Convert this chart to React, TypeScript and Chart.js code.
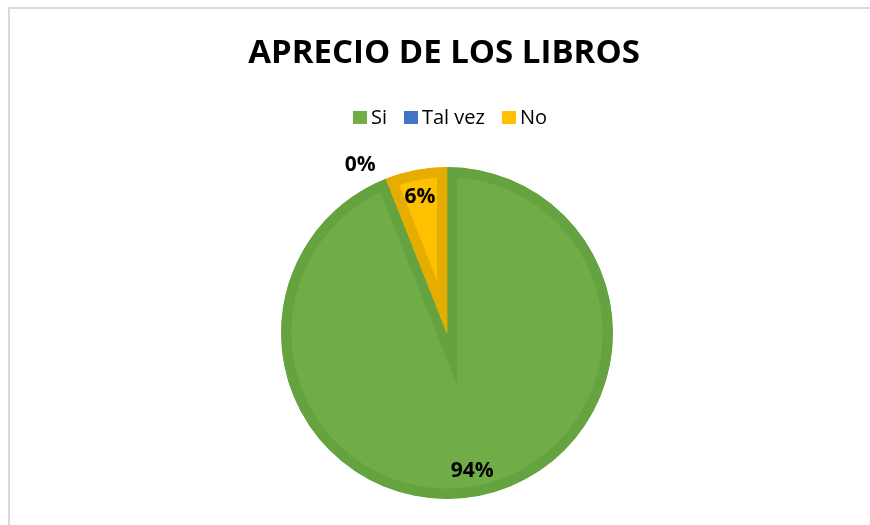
import React, { useEffect, useRef } from "react";
import { Chart, registerables } from "chart.js";

Chart.register(...registerables);

const TITLE = "APRECIO DE LOS LIBROS";
const categories = ["Si", "Tal vez", "No"];
const values = [94, 0, 6];
const fillColors = ["#70AD47", "#4472C4", "#FFC000"];
const borderColors = ["#65A240", "#3F68B3", "#E6AC00"];

const FONT = "'Open Sans', 'DejaVu Sans', sans-serif";

const framePlugin = {
  id: "frame",
  beforeDraw(chart: any) {
    const ctx = chart.ctx;
    ctx.save();
    ctx.fillStyle = "#ffffff";
    ctx.fillRect(0, 0, chart.width, chart.height);
    ctx.fillStyle = "#D9D9D9";
    ctx.fillRect(8, 7, 2, chart.height - 7);
    ctx.fillRect(8, 7, chart.width - 8, 2);
    ctx.restore();
  },
};

const titleLegendPlugin = {
  id: "titleLegend",
  afterDraw(chart: any) {
    const ctx = chart.ctx;
    ctx.save();
    ctx.fillStyle = "#000000";
    ctx.font = `bold 33px ${FONT}`;
    ctx.textAlign = "center";
    ctx.textBaseline = "alphabetic";
    ctx.fillText(TITLE, 444, 63);
    ctx.font = `20px ${FONT}`;
    ctx.textAlign = "left";
    const box = 14;
    const gapText = 4;
    const gapItem = 17;
    const widths = categories.map((c) => ctx.measureText(c).width);
    const total =
      widths.reduce((s, w) => s + box + gapText + w, 0) + gapItem * (categories.length - 1);
    let x = 450 - total / 2;
    categories.forEach((c, i) => {
      ctx.fillStyle = fillColors[i];
      ctx.fillRect(x, 111, box, 13);
      ctx.fillStyle = "#000000";
      ctx.fillText(c, x + box + gapText, 124);
      x += box + gapText + widths[i] + gapItem;
    });
    ctx.restore();
  },
};

const dataLabelPlugin = {
  id: "dataLabels",
  afterDatasetsDraw(chart: any) {
    const ctx = chart.ctx;
    const meta = chart.getDatasetMeta(0);
    const data = chart.data.datasets[0].data as number[];
    const total = data.reduce((s, v) => s + v, 0);
    ctx.save();
    ctx.font = `bold 21px ${FONT}`;
    ctx.fillStyle = "#000000";
    ctx.textBaseline = "middle";
    meta.data.forEach((arc: any, i: number) => {
      const p = arc.getProps(["x", "y", "startAngle", "endAngle", "outerRadius"], true);
      const mid = (p.startAngle + p.endAngle) / 2;
      const pct = Math.round((data[i] / total) * 100) + "%";
      if (data[i] > 0) {
        const r = p.outerRadius * 0.84;
        ctx.textAlign = "center";
        ctx.fillText(pct, p.x + Math.cos(mid) * r - 1, p.y + Math.sin(mid) * r + 1);
      } else {
        const r = p.outerRadius * 1.1;
        ctx.textAlign = "right";
        ctx.fillText(pct, p.x + Math.cos(mid) * r - 4, p.y + Math.sin(mid) * r + 2);
      }
    });
    ctx.restore();
  },
};

export default function App() {
  const ref = useRef<HTMLCanvasElement | null>(null);
  useEffect(() => {
    if (!ref.current) return;
    const chart = new Chart(ref.current, {
      type: "pie",
      data: {
        labels: categories,
        datasets: [
          {
            data: values,
            backgroundColor: fillColors,
            borderColor: borderColors,
            borderWidth: 10,
            borderAlign: "inner",
            borderJoinStyle: "miter",
          } as any,
        ],
      },
      options: {
        responsive: false,
        animation: false,
        devicePixelRatio: 1,
        layout: { padding: { top: 167, bottom: 26, left: 24, right: 0 } },
        plugins: {
          legend: { display: false },
          title: { display: false },
          tooltip: { enabled: false },
        },
      },
      plugins: [framePlugin, titleLegendPlugin, dataLabelPlugin],
    });
    return () => chart.destroy();
  }, []);
  return (
    <div style={{ position: "fixed", left: 0, top: 0, width: 870, height: 525, background: "#fff" }}>
      <canvas ref={ref} width={870} height={525} style={{ width: 870, height: 525, display: "block" }} />
    </div>
  );
}
